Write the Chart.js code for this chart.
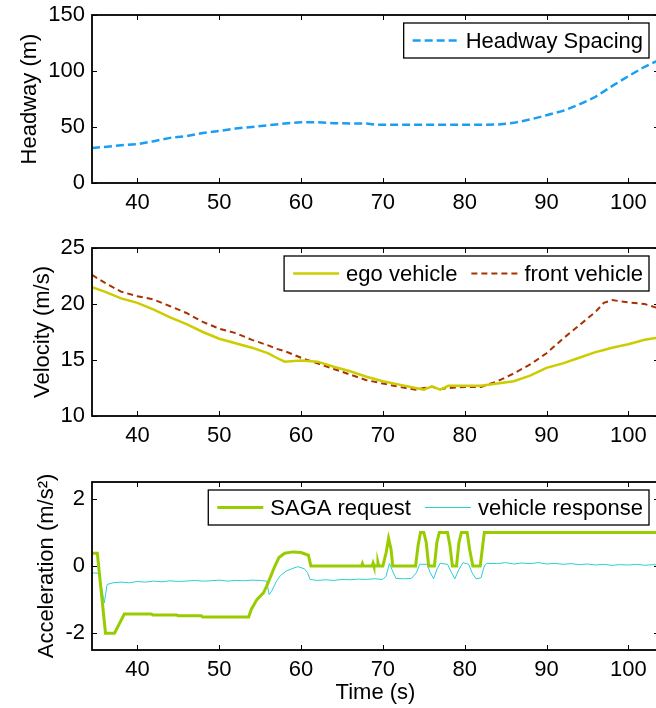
<!DOCTYPE html>
<html>
<head>
<meta charset="utf-8">
<script src="https://cdn.jsdelivr.net/npm/chart.js@4.4.1/dist/chart.umd.min.js"></script>
<style>
  html, body { margin: 0; padding: 0; background: #fff; overflow: hidden; width: 656px; height: 708px; }
  canvas { position: absolute; left: 0; }
</style>
</head>
<body>
<canvas id="chart-headway" width="670" height="230" style="top:0px"></canvas>
<canvas id="chart-velocity" width="670" height="230" style="top:230px"></canvas>
<canvas id="chart-accel" width="670" height="246" style="top:460px"></canvas>
<script>
// x axis (time, s)
var xTicks = [40, 50, 60, 70, 80, 90, 100];

// headway spacing (m)
var hwTicks = [0, 50, 100, 150];
var hwT = [34.45, 36, 38, 40, 42, 44, 46, 48, 50, 52, 54, 56, 58, 60, 62, 64, 66, 68, 69, 70, 74, 78, 82, 84, 86, 88, 90, 92, 94, 96, 98, 100, 102, 103.75];
var hwV = [31.3, 32.2, 33.7, 34.6, 37.3, 40.3, 41.8, 44.7, 46.5, 48.6, 50.1, 51.6, 53.1, 54.3, 54.3, 53.4, 53.1, 53.1, 52.2, 51.9, 51.9, 51.9, 51.9, 52.2, 53.7, 56.7, 60.5, 64.4, 70.1, 77, 86.5, 95.4, 103.8, 109.7];

// velocities (m/s)
var velTicks = [10, 15, 20, 25];
var velT = [34.45, 36, 38, 40, 42, 44, 46, 48, 50, 52, 54, 56, 57, 58, 60, 62, 64, 66, 68, 70, 72, 74, 75, 76, 77, 78, 80, 82, 84, 86, 88, 90, 92, 94, 96, 97, 98, 100, 102, 103.75];
var egoV = [21.5, 21.1, 20.5, 20.1, 19.5, 18.8, 18.2, 17.5, 16.9, 16.5, 16.1, 15.6, 15.2, 14.85, 14.95, 14.85, 14.4, 14.0, 13.5, 13.1, 12.8, 12.5, 12.35, 12.65, 12.35, 12.7, 12.7, 12.7, 12.9, 13.1, 13.6, 14.3, 14.7, 15.2, 15.7, 15.9, 16.1, 16.4, 16.8, 17.0];
var frontV = [22.6, 21.9, 21.1, 20.7, 20.4, 19.8, 19.2, 18.4, 17.8, 17.4, 16.8, 16.3, 16.0, 15.8, 15.2, 14.7, 14.2, 13.7, 13.2, 12.9, 12.6, 12.35, 12.5, 12.6, 12.4, 12.5, 12.6, 12.6, 13.1, 13.8, 14.6, 15.6, 16.9, 18.1, 19.3, 20.1, 20.35, 20.15, 20.0, 19.6];

// acceleration (m/s^2)
var accTicks = [-2, 0, 2];
var sagaT = [34.45, 35.1, 36.1, 37.2, 38.4, 41.7, 41.9, 44.8, 45, 47.8, 48, 53.6, 53.9, 54.6, 55.4, 55.8, 56.3, 56.8, 57.3, 58, 59, 60, 60.9, 61.2,
  67.4, 67.5, 67.6, 68.7, 68.8, 68.9, 69.3, 69.4, 69.5, 70.0, 70.4, 70.7, 71.0, 71.2,
  74.0, 74.3, 74.6, 75.0, 75.3, 75.6, 76.3, 76.6, 76.9, 77.9, 78.2, 78.5, 79.0, 79.3, 79.6, 80.3, 80.6, 81.0, 81.9, 82.4, 103.75];
var sagaA = [0.38, 0.38, -2.0, -2.0, -1.43, -1.43, -1.46, -1.46, -1.48, -1.48, -1.52, -1.52, -1.3, -1.0, -0.8, -0.6, -0.3, 0.0, 0.25, 0.38, 0.42, 0.4, 0.32, 0.0,
  0, 0.07, 0, 0, 0.08, 0, 0, 0.1, 0, 0, 0.4, 0.82, 0.5, 0,
  0, 0.6, 1.0, 1.0, 0.7, 0, 0, 0.7, 1.0, 1.0, 0.6, 0, 0, 0.7, 1.0, 1.0, 0.5, 0, 0, 1.0, 1.0];
var respT = [34.45, 35.3, 35.6, 35.95, 36.3, 37, 38, 39, 40, 41, 42, 43, 44, 45, 46, 47, 48, 49, 50, 51, 52, 53, 54, 55, 55.8, 56.1, 56.4, 57, 57.5, 58.2, 59, 59.6, 60.4, 60.8, 61.1,
  62, 63, 64, 65, 66, 67, 68, 69, 70, 70.4, 70.8, 71.1, 71.6, 72.5, 73.5, 74.1, 74.5, 75.4, 75.8, 76.2, 76.6, 77, 77.9, 78.4, 78.8, 79.3, 79.8, 80.5, 80.9, 81.4, 82, 82.4, 82.7,
  84, 85, 86, 87, 88, 89, 90, 91, 92, 93, 94, 95, 96, 97, 98, 99, 100, 101, 102, 103, 103.75];
var respA = [-0.2, -0.22, -0.6, -1.1, -0.55, -0.5, -0.48, -0.5, -0.46, -0.48, -0.45, -0.47, -0.44, -0.46, -0.45, -0.43, -0.45, -0.44, -0.42, -0.45, -0.43, -0.44, -0.42, -0.43, -0.45, -0.85, -0.75, -0.45, -0.28, -0.15, -0.07, -0.02, -0.08, -0.2, -0.4,
  -0.43, -0.41, -0.43, -0.4, -0.41, -0.39, -0.4, -0.38, -0.4, -0.3, 0.08, -0.1, -0.37, -0.38, -0.37, -0.2, 0.05, 0.05, -0.2, -0.38, -0.1, 0.08, 0.05, -0.2, -0.38, -0.1, 0.1, 0.05, -0.2, -0.38, -0.35, 0.0, 0.08,
  0.07, 0.1, 0.06, 0.09, 0.07, 0.1, 0.06, 0.08, 0.05, 0.07, 0.04, 0.06, 0.03, 0.05, 0.02, 0.04, 0.03, 0.05, 0.02, 0.04, 0.03];

var FONT = "'Liberation Sans', Arial, sans-serif";

function pts(xs, ys) {
  return xs.map(function (x, i) { return { x: x, y: ys[i] }; });
}

// matlab-like box with inward ticks
var axisBox = {
  id: 'axisBox',
  afterDraw: function (chart) {
    var ctx = chart.ctx, a = chart.chartArea, xs = chart.scales.x, ys = chart.scales.y;
    ctx.save();
    ctx.strokeStyle = '#000';
    ctx.lineWidth = 1.8;
    ctx.strokeRect(a.left, a.top, a.right - a.left, a.bottom - a.top);
    ctx.lineWidth = 1;
    ctx.beginPath();
    xs.ticks.forEach(function (t) {
      var px = Math.round(xs.getPixelForValue(t.value)) + 0.5;
      ctx.moveTo(px, a.bottom); ctx.lineTo(px, a.bottom - 5);
      ctx.moveTo(px, a.top); ctx.lineTo(px, a.top + 5);
    });
    ys.ticks.forEach(function (t) {
      var py = Math.round(ys.getPixelForValue(t.value)) + 0.5;
      ctx.moveTo(a.left, py); ctx.lineTo(a.left + 5, py);
      ctx.moveTo(a.right, py); ctx.lineTo(a.right - 5, py);
    });
    ctx.stroke();
    ctx.restore();
  }
};

// boxed legend in the upper right of the plot
var boxLegend = {
  id: 'boxLegend',
  afterDraw: function (chart) {
    var ctx = chart.ctx, a = chart.chartArea, sets = chart.data.datasets;
    var padL = 9, lineLen = 46, gap = 7, between = 14, padR = 6, h = 35;
    ctx.save();
    ctx.font = '22px ' + FONT;
    var w = padL + padR - between;
    sets.forEach(function (d) { w += lineLen + gap + ctx.measureText(d.label).width + between; });
    var right = a.right - 10, top = a.top + 8, left = right - w;
    ctx.fillStyle = '#fff';
    ctx.fillRect(left, top, w, h);
    ctx.strokeStyle = '#000';
    ctx.lineWidth = 1.3;
    ctx.strokeRect(left, top, w, h);
    var x = left + padL, cy = top + h / 2;
    sets.forEach(function (d) {
      ctx.beginPath();
      ctx.strokeStyle = d.borderColor;
      ctx.lineWidth = d.borderWidth;
      ctx.setLineDash(d.borderDash || []);
      ctx.moveTo(x, cy); ctx.lineTo(x + lineLen, cy);
      ctx.stroke();
      ctx.setLineDash([]);
      x += lineLen + gap;
      ctx.fillStyle = '#000';
      ctx.textBaseline = 'middle';
      ctx.fillText(d.label, x, cy + 1);
      x += ctx.measureText(d.label).width + between;
    });
    ctx.restore();
  }
};

function makePanel(id, datasets, p) {
  var ctx = document.getElementById(id).getContext('2d');
  return new Chart(ctx, {
    type: 'line',
    data: { datasets: datasets },
    plugins: [axisBox, boxLegend],
    options: {
      responsive: false,
      animation: false,
      layout: { padding: { top: p.padTop, left: p.padLeft, right: 11, bottom: 0 } },
      plugins: { legend: { display: false }, tooltip: { enabled: false } },
      elements: { point: { radius: 0 }, line: { tension: 0 } },
      scales: {
        x: {
          type: 'linear',
          min: 34.45,
          max: 103.75,
          afterBuildTicks: function (s) { s.ticks = xTicks.map(function (v) { return { value: v }; }); },
          afterFit: function (s) { s.height = p.xHeight; s.paddingLeft = 0; s.paddingRight = 0; },
          grid: { display: false, drawTicks: false },
          border: { display: false },
          ticks: { color: '#000', padding: 7, maxRotation: 0, font: { family: FONT, size: 22 } },
          title: {
            display: !!p.xTitle,
            text: p.xTitle || '',
            color: '#000',
            padding: 0,
            font: { family: FONT, size: 22 }
          }
        },
        y: {
          min: p.yMin,
          max: p.yMax,
          afterBuildTicks: function (s) { s.ticks = p.yTicks.map(function (v) { return { value: v }; }); },
          afterFit: function (s) { s.width = 92 - p.padLeft; s.paddingTop = 0; s.paddingBottom = 0; },
          grid: { display: false, drawTicks: false },
          border: { display: false },
          ticks: { color: '#000', padding: 7, font: { family: FONT, size: 22 } },
          title: {
            display: true,
            text: p.yTitle,
            color: '#000',
            padding: 0,
            font: { family: FONT, size: 22 }
          }
        }
      }
    }
  });
}

makePanel('chart-headway', [
  {
    label: 'Headway Spacing',
    data: pts(hwT, hwV),
    borderColor: '#1a9ef5',
    borderWidth: 2.5,
    borderDash: [8, 4],
    fill: false
  }
], { padTop: 15, padLeft: 17, xHeight: 47, yMin: 0, yMax: 150, yTicks: hwTicks, yTitle: 'Headway (m)' });

makePanel('chart-velocity', [
  {
    label: 'ego vehicle',
    data: pts(velT, egoV),
    borderColor: '#cccc00',
    borderWidth: 2.5,
    fill: false
  },
  {
    label: 'front vehicle',
    data: pts(velT, frontV),
    borderColor: '#a83200',
    borderWidth: 2,
    borderDash: [6, 4],
    fill: false
  }
], { padTop: 18, padLeft: 30, xHeight: 44, yMin: 10, yMax: 25, yTicks: velTicks, yTitle: 'Velocity (m/s)' });

makePanel('chart-accel', [
  {
    label: 'SAGA request',
    data: pts(sagaT, sagaA),
    borderColor: '#99cc00',
    borderWidth: 3,
    fill: false
  },
  {
    label: 'vehicle response',
    data: pts(respT, respA),
    borderColor: '#2ccfd2',
    borderWidth: 1,
    fill: false
  }
], { padTop: 22, padLeft: 34, xHeight: 56, yMin: -2.5, yMax: 2.5, yTicks: accTicks, yTitle: 'Acceleration (m/s²)', xTitle: 'Time (s)' });
</script>
</body>
</html>
